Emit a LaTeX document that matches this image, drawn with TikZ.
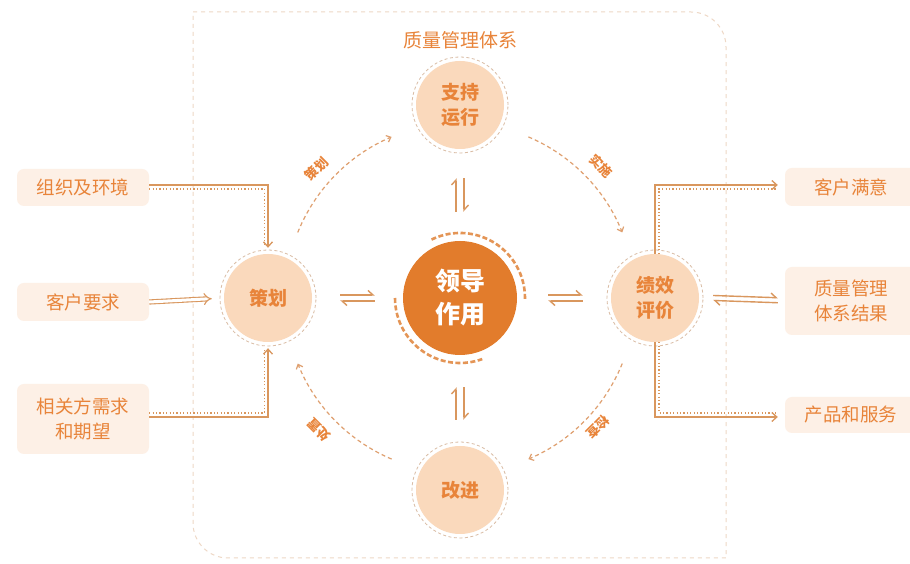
\documentclass[tikz,border=0pt]{standalone}
\usepackage{fontspec}
\setmainfont{Noto Sans CJK SC}
\usetikzlibrary{arrows.meta,calc}
\definecolor{txtor}{HTML}{E8843A}
\definecolor{peach}{HTML}{FAD9BC}
\definecolor{ringc}{HTML}{D9BBA3}
\definecolor{leadc}{HTML}{E27C2C}
\definecolor{leadarc}{HTML}{E49556}
\definecolor{boxfill}{HTML}{FDF0E6}
\definecolor{conn}{HTML}{D9975E}
\definecolor{framec}{HTML}{EED8C6}
\definecolor{cyclec}{HTML}{DFA070}
\tikzset{
 stage/.style={circle, fill=peach, minimum size=88pt, inner sep=0pt, text=txtor, font=\bfseries\fontsize{19}{25}\selectfont, align=center},
 lead/.style={circle, fill=leadc, minimum size=114pt, inner sep=0pt, text=white, font=\bfseries\fontsize{25}{33}\selectfont, align=center},
 ring/.style={draw=ringc, line width=0.8pt, dash pattern=on 3pt off 2.5pt},
 leadring/.style={draw=leadarc, line width=2.6pt, dash pattern=on 5pt off 2.5pt},
 inbox/.style={rectangle, rounded corners=7pt, fill=boxfill, text=txtor, font=\fontsize{18.5}{25}\selectfont, align=center, inner sep=0pt},
 conline/.style={draw=conn, line width=1.3pt},
 condot/.style={draw=conn, line width=1.1pt, dash pattern=on 1.2pt off 2.2pt},
 conarrow/.style={-{Straight Barb[length=5pt,width=9pt]}},
 cyclearc/.style={draw=cyclec, line width=1.2pt, dash pattern=on 4pt off 3pt, -{Straight Barb[length=4pt,width=7pt]}},
 cyclab/.style={text=txtor, inner sep=1pt, font=\bfseries\fontsize{13}{13}\selectfont},
 harp/.style={draw=conn, line width=1.4pt, -{Straight Barb[harpoon,length=5pt,width=9pt]}},
}
\begin{document}
\begin{tikzpicture}[x=1pt,y=1pt]
\useasboundingbox (0,0) rectangle (910,564);
\fill[white] (0,0) rectangle (910,564);
% frame
\draw[framec, line width=1pt, dash pattern=on 4pt off 4pt] (193,552) -- (691,552) arc[start angle=90,end angle=0,radius=35pt] -- (726,6) -- (228,6) arc[start angle=270,end angle=180,radius=35pt] -- cycle;
\node[text=txtor, font=\fontsize{19}{19}\selectfont] (title) at (460,524) {质量管理体系};
% nodes
\node[lead] (C) at (460,266) {领导\\作用};
\node[stage] (sup) at (460,459) {支持\\运行};
\node[stage] (plan) at (268,266) {策划};
\node[stage] (perf) at (655,266) {绩效\\评价};
\node[stage] (imp) at (460,74) {改进};
\foreach \n in {sup,plan,perf,imp} \draw[ring] (\n.center) circle[radius=48pt];
\draw[leadring] (C.center) ++(116:65pt) arc[start angle=116, end angle=-3, radius=65pt];
\draw[leadring] (C.center) ++(180:65pt) arc[start angle=180, end angle=290, radius=65pt];
% cycle arcs
\draw[cyclearc] (C.center) ++(158:175pt) arc[start angle=158,end angle=113,radius=175pt];
\draw[cyclearc] (C.center) ++(67:175pt) arc[start angle=67,end angle=22,radius=175pt];
\draw[cyclearc] (C.center) ++(-22:175pt) arc[start angle=-22,end angle=-67,radius=175pt];
\draw[cyclearc] (C.center) ++(-113:175pt) arc[start angle=-113,end angle=-158,radius=175pt];
\node[cyclab, rotate=45] (lp) at ($(C.center)+(138:193pt)$) {策划};
\node[cyclab, rotate=-45] (ld) at ($(C.center)+(43:193pt)$) {实施};
\node[cyclab, rotate=-135] (lc) at ($(C.center)+(-43:189pt)$) {检查};
\node[cyclab, rotate=135] (la) at ($(C.center)+(-137:193pt)$) {处置};
% harpoons around centre
\draw[harp, shorten <=29pt, shorten >=29pt] ([xshift=-4pt]C.north) -- ([xshift=-4pt]sup.south);
\draw[harp, shorten <=29pt, shorten >=29pt] ([xshift=4pt]sup.south) -- ([xshift=4pt]C.north);
\draw[harp, shorten <=26pt, shorten >=32pt] ([xshift=-4pt]imp.north) -- ([xshift=-4pt]C.south);
\draw[harp, shorten <=32pt, shorten >=26pt] ([xshift=4pt]C.south) -- ([xshift=4pt]imp.north);
\draw[harp, shorten <=28pt, shorten >=28pt] ([yshift=3pt]plan.east) -- ([yshift=3pt]C.west);
\draw[harp, shorten <=28pt, shorten >=28pt] ([yshift=-3pt]C.west) -- ([yshift=-3pt]plan.east);
\draw[harp, shorten <=31pt, shorten >=28pt] ([yshift=3pt]C.east) -- ([yshift=3pt]perf.west);
\draw[harp, shorten <=28pt, shorten >=31pt] ([yshift=-3pt]perf.west) -- ([yshift=-3pt]C.east);
% left boxes
\node[inbox, minimum width=132pt, minimum height=37pt] (org) at (83,376.5) {组织及环境};
\node[inbox, minimum width=132pt, minimum height=38pt] (req) at (83,262) {客户要求};
\node[inbox, minimum width=132pt, minimum height=70pt] (rel) at (83,145) {相关方需求\\和期望};
% right boxes
\node[inbox, minimum width=132pt, minimum height=38pt] (sat) at (851,377) {客户满意};
\node[inbox, minimum width=132pt, minimum height=68pt] (res) at (851,263) {质量管理\\体系结果};
\node[inbox, minimum width=132pt, minimum height=36pt] (prod) at (851,149) {产品和服务};
% left connectors
\draw[conline, conarrow, shorten >=6pt] ([yshift=2.5pt]org.east) -| (plan.north);
\draw[condot, shorten >=8pt] ([yshift=-1.5pt]org.east) -| ([xshift=-3.5pt]plan.north);
\draw[draw=conn, line width=1.1pt, double=white, double distance=3pt, -{Implies}, shorten >=12pt] (req.east) -- (plan.west);
\draw[conline, conarrow, shorten >=6pt] ([yshift=2pt]rel.east) -| (plan.south);
\draw[condot, shorten >=8pt] ([yshift=6pt]rel.east) -| ([xshift=-3.5pt]plan.south);
% right connectors
\draw[conline, conarrow, shorten >=7pt] (perf.north) |- ([yshift=2pt]sat.west);
\draw[condot, shorten >=8pt] ([xshift=4pt]perf.north) |- ([yshift=-2pt]sat.west);
\draw[conline, conarrow, shorten >=7pt] (perf.south) |- ([yshift=-2pt]prod.west);
\draw[condot, shorten >=8pt] ([xshift=4pt]perf.south) |- ([yshift=2pt]prod.west);
\draw[harp, shorten <=14pt, shorten >=7pt] ([yshift=3pt]perf.east) -- ([yshift=3pt]res.west);
\draw[harp, shorten <=7pt, shorten >=14pt] ([yshift=-2pt]res.west) -- ([yshift=-2pt]perf.east);
\end{tikzpicture}
\end{document}
